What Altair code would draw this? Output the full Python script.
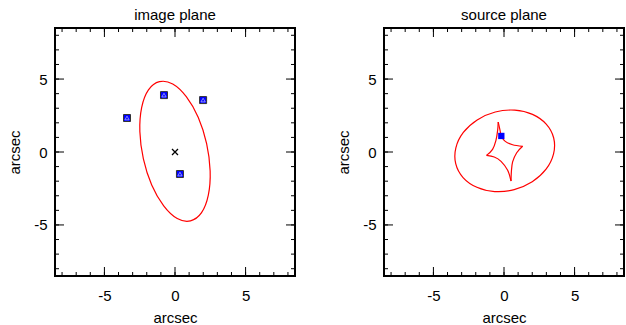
import altair as alt
import pandas as pd

FONT = "Liberation Sans"

# ---------------- data ----------------
# image plane: observed images, lens centre, critical curve
img_x = [-3.40, -0.78, 1.99, 0.35]
img_y = [2.33, 3.90, 3.56, -1.51]
lens_x = [0.0]
lens_y = [0.0]
crit_x = [-1.10, -0.16, 0.80, 1.65, 2.24, 2.49, 2.36, 1.88,
          1.10, 0.16, -0.80, -1.65, -2.24, -2.49, -2.36, -1.88]
crit_y = [4.82, 4.66, 3.79, 2.36, 0.57, -1.30, -2.96, -4.16,
          -4.72, -4.56, -3.69, -2.26, -0.47, 1.40, 3.06, 4.26]

# source plane: source position, cut curve, caustic (4 arcs between cusps)
src_x = [-0.19]
src_y = [1.10]
cut_x = [3.52, 2.99, 2.02, 0.76, -0.62, -1.90, -2.88, -3.41,
         -3.42, -2.90, -1.92, -0.66, 0.72, 2.00, 2.98, 3.51]
cut_y = [0.96, 1.91, 2.58, 2.87, 2.74, 2.20, 1.34, 0.29,
         -0.80, -1.75, -2.42, -2.71, -2.58, -2.04, -1.18, -0.13]
arc1_x = [-0.41, -0.28, -0.19, 0.09, 0.61, 1.32]
arc1_y = [2.05, 1.49, 1.10, 0.73, 0.50, 0.39]
arc2_x = [1.32, 0.90, 0.61, 0.52, 0.50]
arc2_y = [0.39, -0.05, -0.68, -1.37, -1.99]
arc3_x = [0.50, 0.26, -0.21, -0.69, -1.24]
arc3_y = [-1.99, -1.25, -0.64, -0.34, -0.23]
arc4_x = [-1.24, -0.81, -0.57, -0.45, -0.41]
arc4_y = [-0.23, 0.18, 0.80, 1.49, 2.05]

# axes
major_ticks = [-5, 0, 5]
minor_ticks = [-8, -7, -6, -5, -4, -3, -2, -1, 0, 1, 2, 3, 4, 5, 6, 7, 8]
axis_range = [-8.5, 8.5]

# ---------------- tables ----------------
img_df = pd.DataFrame({"x": img_x, "y": img_y})
lens_df = pd.DataFrame({"x": lens_x, "y": lens_y})
crit_df = pd.DataFrame({"x": crit_x, "y": crit_y, "i": list(range(len(crit_x)))})
src_df = pd.DataFrame({"x": src_x, "y": src_y})
cut_df = pd.DataFrame({"x": cut_x, "y": cut_y, "i": list(range(len(cut_x)))})
arcs = []
for k, (ax_, ay_) in enumerate([(arc1_x, arc1_y), (arc2_x, arc2_y),
                                (arc3_x, arc3_y), (arc4_x, arc4_y)]):
    for j, (a, b) in enumerate(zip(ax_, ay_)):
        arcs.append({"x": a, "y": b, "i": j, "arc": k})
caus_df = pd.DataFrame(arcs)
minor_df = pd.DataFrame({"v": minor_ticks})
major_df = pd.DataFrame({"v": major_ticks})

W, H = 240, 248
RED = "#ff0000"
BLUE = "#0000ff"
LABEL = "'' + datum.value"

xs = alt.Scale(domain=axis_range, nice=False, zero=False)
ys = alt.Scale(domain=axis_range, nice=False, zero=False)
x_axis = alt.Axis(title="arcsec", values=major_ticks, ticks=False, tickSize=0,
                  domain=False, grid=False, labelPadding=12, titlePadding=7,
                  labelExpr=LABEL)
y_axis = alt.Axis(title="arcsec", values=major_ticks, ticks=False, tickSize=0,
                  domain=False, grid=False, labelPadding=8, titlePadding=11,
                  labelExpr=LABEL)


def X(f="x"):
    return alt.X(f"{f}:Q", scale=xs, axis=x_axis)


def Y(f="y"):
    return alt.Y(f"{f}:Q", scale=ys, axis=y_axis)


def tick_layers():
    out = []
    for df, L in ((minor_df, 4), (major_df, 9)):
        base = alt.Chart(df).mark_rule(color="black", strokeWidth=1)
        out += [
            base.encode(x=X("v"), y=alt.value(H), y2=alt.value(H - L)),
            base.encode(x=X("v"), y=alt.value(0), y2=alt.value(L)),
            base.encode(y=Y("v"), x=alt.value(0), x2=alt.value(L)),
            base.encode(y=Y("v"), x=alt.value(W), x2=alt.value(W - L)),
        ]
    return out


def panel_title(t):
    return alt.TitleParams(t, fontSize=15, font=FONT, fontWeight="normal",
                           color="black", offset=5)


crit = alt.Chart(crit_df).mark_line(color=RED, strokeWidth=1.2,
                                    interpolate="cardinal-closed").encode(
    x=X(), y=Y(), order="i:Q")
img_sq = alt.Chart(img_df).mark_square(fill=BLUE, stroke="#333333", strokeWidth=1,
                                       size=49, opacity=1).encode(x=X(), y=Y())
img_tri = alt.Chart(img_df).mark_point(shape="triangle-up", filled=True, fill=BLUE,
                                       stroke="#aaaaff", strokeWidth=0.8, size=18,
                                       opacity=1).encode(x=X(), y=Y())
lens = alt.Chart(lens_df).mark_point(shape="M-1,-1L1,1M-1,1L1,-1", filled=False,
                                     stroke="black", strokeWidth=1.3, size=36,
                                     opacity=1).encode(x=X(), y=Y())

left = alt.layer(crit, img_sq, img_tri, lens, *tick_layers()).properties(
    width=W, height=H, title=panel_title("image plane"))

cut = alt.Chart(cut_df).mark_line(color=RED, strokeWidth=1.2,
                                  interpolate="cardinal-closed").encode(
    x=X(), y=Y(), order="i:Q")
caus = alt.Chart(caus_df).mark_line(color=RED, strokeWidth=1.2,
                                    interpolate="cardinal").encode(
    x=X(), y=Y(), order="i:Q", detail="arc:N")
src = alt.Chart(src_df).mark_square(fill=BLUE, size=40, opacity=1).encode(x=X(), y=Y())

right = alt.layer(cut, caus, src, *tick_layers()).properties(
    width=W, height=H, title=panel_title("source plane"))

chart = alt.hconcat(left, right, spacing=38).properties(
    padding={"left": 6, "top": 6, "right": 0, "bottom": 0},
    background="white",
).configure_view(stroke="black", strokeWidth=2).configure_axis(
    labelFont=FONT, labelFontSize=15, labelColor="black",
    titleFont=FONT, titleFontSize=15, titleColor="black", titleFontWeight="normal",
).configure_title(anchor="middle")

chart.save("out.html", embed_options={"renderer": "svg", "actions": False})
